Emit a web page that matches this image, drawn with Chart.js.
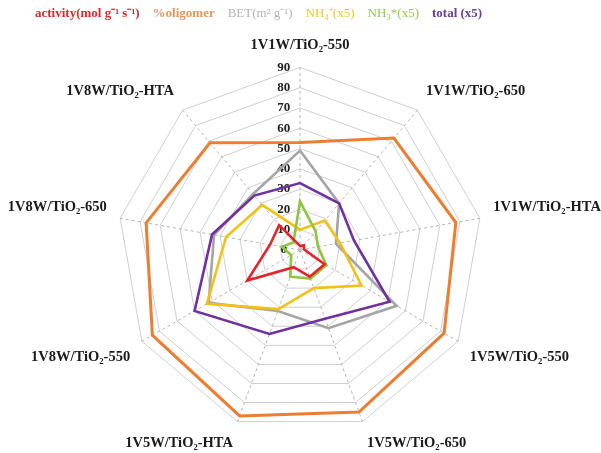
<!DOCTYPE html>
<html>
<head>
<meta charset="utf-8">
<script src="https://cdn.jsdelivr.net/npm/chart.js@4.4.1/dist/chart.umd.min.js"></script>
<style>
  html, body { margin: 0; padding: 0; background: #ffffff; overflow: hidden; width: 601px; height: 453px; }
  #wrap { position: absolute; left: 4px; top: 0px; width: 601px; height: 459px; }
</style>
</head>
<body>
<div id="wrap"><canvas id="c" width="601" height="459"></canvas></div>
<script>
const categories = ['1V1W/TiO₂-550','1V1W/TiO₂-650','1V1W/TiO₂-HTA','1V5W/TiO₂-550','1V5W/TiO₂-650','1V5W/TiO₂-HTA','1V8W/TiO₂-550','1V8W/TiO₂-650','1V8W/TiO₂-HTA'];
const activity = [2, 3, 2, 14, 14, 9, 30, 15, 16];
const oligomer = [53, 72, 78, 82, 85, 87, 84, 77, 69];
const bet = [49, 30, 18, 55, 41, 32, 52, 43, 36];
const nh4 = [10, 19, 20, 35, 20, 31, 53, 37, 29];
const nh3 = [24, 12, 9, 15, 15, 14, 5, 9, 5];
const total = [33, 30, 27, 51, 36, 44, 60, 44, 35];
const tickValues = [0, 10, 20, 30, 40, 50, 60, 70, 80, 90];
const seriesNames = ['activity(mol g⁻¹ s⁻¹)', '%oligomer', 'BET(m² g⁻¹)', 'NH₄⁺(x5)', 'NH₃*(x5)', 'total (x5)'];

const lineColors = ['#e62129', '#ed7d31', '#a5a5a5', '#f2c118', '#8cc63f', '#7030a0'];
const legendColors = ['#e0282c', '#e9955a', '#b4b4b4', '#f3c523', '#92c84a', '#6b3c9a'];
const legendBold = [true, true, false, false, false, true];
const seriesData = [activity, oligomer, bet, nh4, nh3, total];
const widths = [2.6, 3, 2.6, 2.6, 2.6, 2.6];
const orders = [0, 5, 4, 3, 1, 2];

const serif = '"Liberation Serif", "Times New Roman", serif';

const legendPlugin = {
  id: 'textLegend',
  afterDraw(chart) {
    const ctx = chart.ctx;
    ctx.save();
    ctx.textBaseline = 'middle';
    ctx.textAlign = 'left';
    let x = 31;
    const y = 14;
    seriesNames.forEach((name, i) => {
      ctx.font = (legendBold[i] ? 'bold ' : '') + '13px ' + serif;
      ctx.fillStyle = legendColors[i];
      ctx.fillText(name, x, y);
      x += ctx.measureText(name).width + 13;
    });
    ctx.restore();
  }
};

new Chart(document.getElementById('c'), {
  type: 'radar',
  data: {
    labels: categories,
    datasets: seriesData.map((d, i) => ({
      label: seriesNames[i],
      data: d,
      borderColor: lineColors[i],
      backgroundColor: 'transparent',
      borderWidth: widths[i],
      fill: false,
      pointRadius: 0,
      pointHoverRadius: 0,
      tension: 0,
      order: orders[i]
    }))
  },
  options: {
    responsive: false,
    animation: false,
    devicePixelRatio: 1,
    layout: { padding: { top: 29, bottom: 0, left: 0, right: 0 } },
    plugins: {
      legend: { display: false },
      tooltip: { enabled: false }
    },
    elements: { line: { borderJoinStyle: 'miter' } },
    scales: {
      r: {
        min: -0.001,
        max: 90,
        afterBuildTicks(scale) {
          scale.ticks = tickValues.map(v => ({ value: v }));
        },
        ticks: {
          stepSize: 10,
          showLabelBackdrop: false,
          color: '#222222',
          font: { family: serif, size: 13, weight: 'bold' },
          callback: (v) => String(v) + '          '
        },
        grid: { color: '#cfcfcf', lineWidth: 1 },
        angleLines: { color: '#b5b5b5', lineWidth: 1, borderDash: [3, 3] },
        pointLabels: {
          color: '#1a1a1a',
          padding: 5,
          font: { family: serif, size: 14.5, weight: 'bold' }
        }
      }
    }
  },
  plugins: [legendPlugin]
});
</script>
</body>
</html>
